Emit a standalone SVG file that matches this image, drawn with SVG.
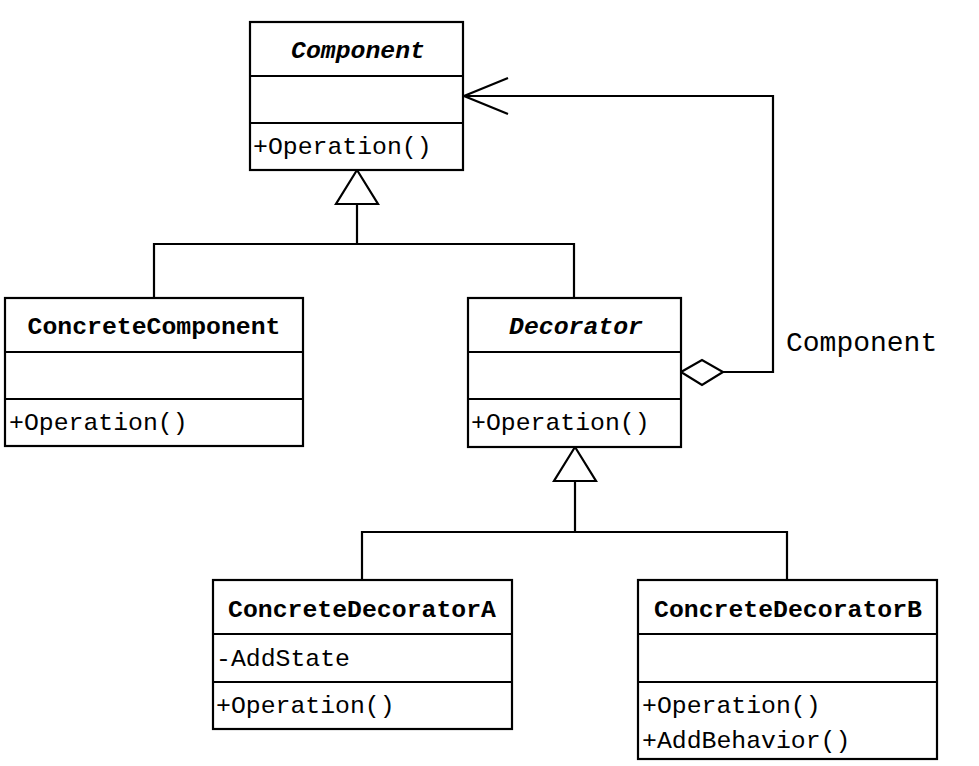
<svg xmlns="http://www.w3.org/2000/svg" width="979" height="766" viewBox="0 0 979 766">
<style>
.box{fill:#fff;stroke:#000;stroke-width:2.2}
.div{stroke:#000;stroke-width:2.2}
.t{font-family:"Liberation Mono","DejaVu Sans Mono",monospace;font-size:24.8px;fill:#000}
.title{font-weight:bold;text-anchor:middle}
.it{font-style:italic}
.conn{fill:none;stroke:#000;stroke-width:2.2}
.tri{fill:#fff;stroke:#000;stroke-width:2.2}
</style>
<rect width="979" height="766" fill="#fff"/>
<g id="connectors">
  <polyline class="conn" points="357,204 357,244"/>
  <polyline class="conn" points="154,298 154,244 574,244 574,298"/>
  <polygon class="tri" points="357,170 336,204 378,204"/>
  <polyline class="conn" points="575,481 575,532"/>
  <polyline class="conn" points="362,580 362,532 787,532 787,580"/>
  <polygon class="tri" points="575,447 554,481 596,481"/>
  <polyline class="conn" points="723,372 773,372 773,96 464,96"/>
  <polyline class="conn" points="508,78 464,96 508,114"/>
  <polygon class="tri" points="681,372 702,360 723,372 702,385"/>
  <text class="t" x="786" y="351" style="font-size:28px">Component</text>
</g>
<g id="Component">
  <rect class="box" x="250" y="22" width="213" height="148"/>
  <line class="div" x1="250" y1="76" x2="463" y2="76"/>
  <line class="div" x1="250" y1="123" x2="463" y2="123"/>
  <text class="t title it" x="358" y="58">Component</text>
  <text class="t" x="253" y="154">+Operation()</text>
</g>
<g id="ConcreteComponent">
  <rect class="box" x="5" y="298" width="298" height="148"/>
  <line class="div" x1="5" y1="352" x2="303" y2="352"/>
  <line class="div" x1="5" y1="399" x2="303" y2="399"/>
  <text class="t title" x="154" y="334">ConcreteComponent</text>
  <text class="t" x="9" y="430">+Operation()</text>
</g>
<g id="Decorator">
  <rect class="box" x="468" y="298" width="213" height="149"/>
  <line class="div" x1="468" y1="352" x2="681" y2="352"/>
  <line class="div" x1="468" y1="399" x2="681" y2="399"/>
  <text class="t title it" x="576" y="334">Decorator</text>
  <text class="t" x="471" y="430">+Operation()</text>
</g>
<g id="ConcreteDecoratorA">
  <rect class="box" x="213" y="580" width="299" height="149"/>
  <line class="div" x1="213" y1="634" x2="512" y2="634"/>
  <line class="div" x1="213" y1="682" x2="512" y2="682"/>
  <text class="t title" x="362" y="617">ConcreteDecoratorA</text>
  <text class="t" x="216" y="666">-AddState</text>
  <text class="t" x="216" y="713">+Operation()</text>
</g>
<g id="ConcreteDecoratorB">
  <rect class="box" x="638" y="580" width="299" height="179"/>
  <line class="div" x1="638" y1="634" x2="937" y2="634"/>
  <line class="div" x1="638" y1="682" x2="937" y2="682"/>
  <text class="t title" x="788" y="617">ConcreteDecoratorB</text>
  <text class="t" x="642" y="713">+Operation()</text>
  <text class="t" x="642" y="748">+AddBehavior()</text>
</g>
</svg>
